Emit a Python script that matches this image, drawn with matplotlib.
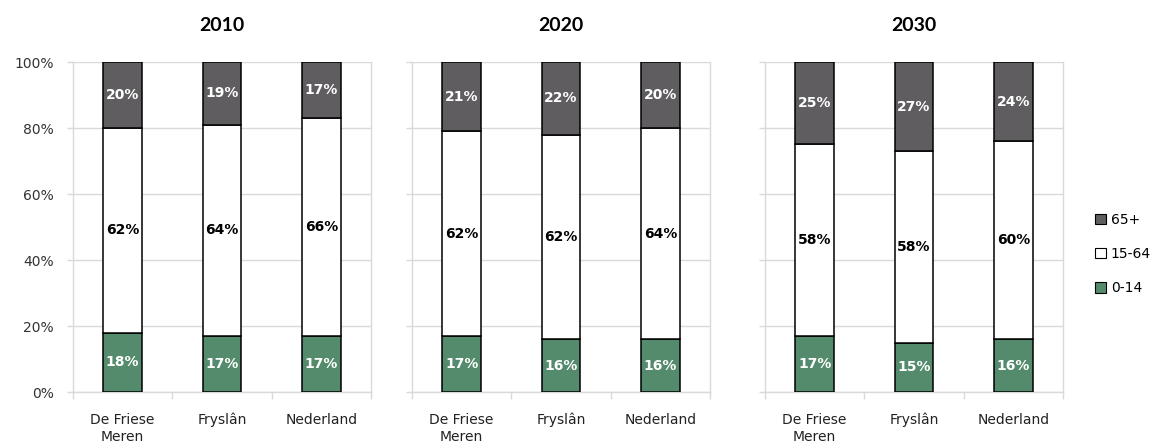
import matplotlib
matplotlib.use("Agg")
import matplotlib.pyplot as plt
from matplotlib.patches import Patch
import numpy as np

years = ["2010", "2020", "2030"]
regions = ["De Friese\nMeren", "Fryslân", "Nederland"]
series = ["0-14", "15-64", "65+"]
values = {
    "2010": {"0-14": [18, 17, 17], "15-64": [62, 64, 66], "65+": [20, 19, 17]},
    "2020": {"0-14": [17, 16, 16], "15-64": [62, 62, 64], "65+": [21, 22, 20]},
    "2030": {"0-14": [17, 15, 16], "15-64": [58, 58, 60], "65+": [25, 27, 24]},
}
yticks = [0, 20, 40, 60, 80, 100]
ytick_labels = ["0%", "20%", "40%", "60%", "80%", "100%"]

colors = {"0-14": "#548B6C", "15-64": "#FFFFFF", "65+": "#605D61"}
label_colors = {"0-14": "white", "15-64": "black", "65+": "white"}

W, H = 1155, 448
fig = plt.figure(figsize=(W / 100, H / 100), dpi=100)
plt.rcParams["font.family"] = ["DejaVu Sans"]

lefts = [73, 412, 765]
ax_w = 298
bottom_px, top_px = 392, 62

grid_col = "#D9D9D9"
for i, yr in enumerate(years):
    ax = fig.add_axes([lefts[i] / W, 1 - bottom_px / H, ax_w / W, (bottom_px - top_px) / H])
    x = np.arange(len(regions))
    base = np.zeros(len(regions))
    for s in series:
        v = np.array(values[yr][s], dtype=float)
        ax.bar(x, v, bottom=base, width=0.39, color=colors[s], edgecolor="black",
               linewidth=1.1, zorder=3)
        for xi, (b, h) in enumerate(zip(base, v)):
            ax.text(xi, b + h / 2, f"{int(round(h))}%", ha="center", va="center",
                    fontsize=10, fontweight="bold", color=label_colors[s], zorder=4)
        base += v
    ax.set_xlim(-0.5, len(regions) - 0.5)
    ax.set_ylim(0, 100)
    ax.set_yticks(yticks)
    if i == 0:
        ax.set_yticklabels(ytick_labels, fontsize=10, color="#333333")
    else:
        ax.set_yticklabels([])
    ax.set_xticks(x)
    ax.set_xticklabels(regions, fontsize=10, color="#222222", linespacing=1.3)
    ax.set_xticks(np.arange(-0.5, len(regions)), minor=True)
    ax.tick_params(axis="x", which="major", length=0, pad=15)
    ax.tick_params(axis="x", which="minor", length=5, color=grid_col, width=1)
    ax.tick_params(axis="y", length=4, color=grid_col, width=1, pad=10)
    ax.grid(axis="y", color=grid_col, linewidth=1, zorder=0)
    ax.spines["top"].set_visible(False)
    for sp in ["left", "right", "bottom"]:
        ax.spines[sp].set_color(grid_col)
        ax.spines[sp].set_linewidth(1)
    ax.set_title(yr, fontsize=14, fontweight="bold", family=["Lato", "DejaVu Sans"], pad=22)

handles = [Patch(facecolor=colors[s], edgecolor="black", linewidth=0.8, label=s)
           for s in reversed(series)]
fig.legend(handles=handles, loc="center left", bbox_to_anchor=(1088 / W, 1 - 254 / H),
           frameon=False, fontsize=10, handlelength=0.8, handleheight=0.8,
           handletextpad=0.35, labelspacing=1.45, borderpad=0)

fig.savefig("out.png", dpi=100)
